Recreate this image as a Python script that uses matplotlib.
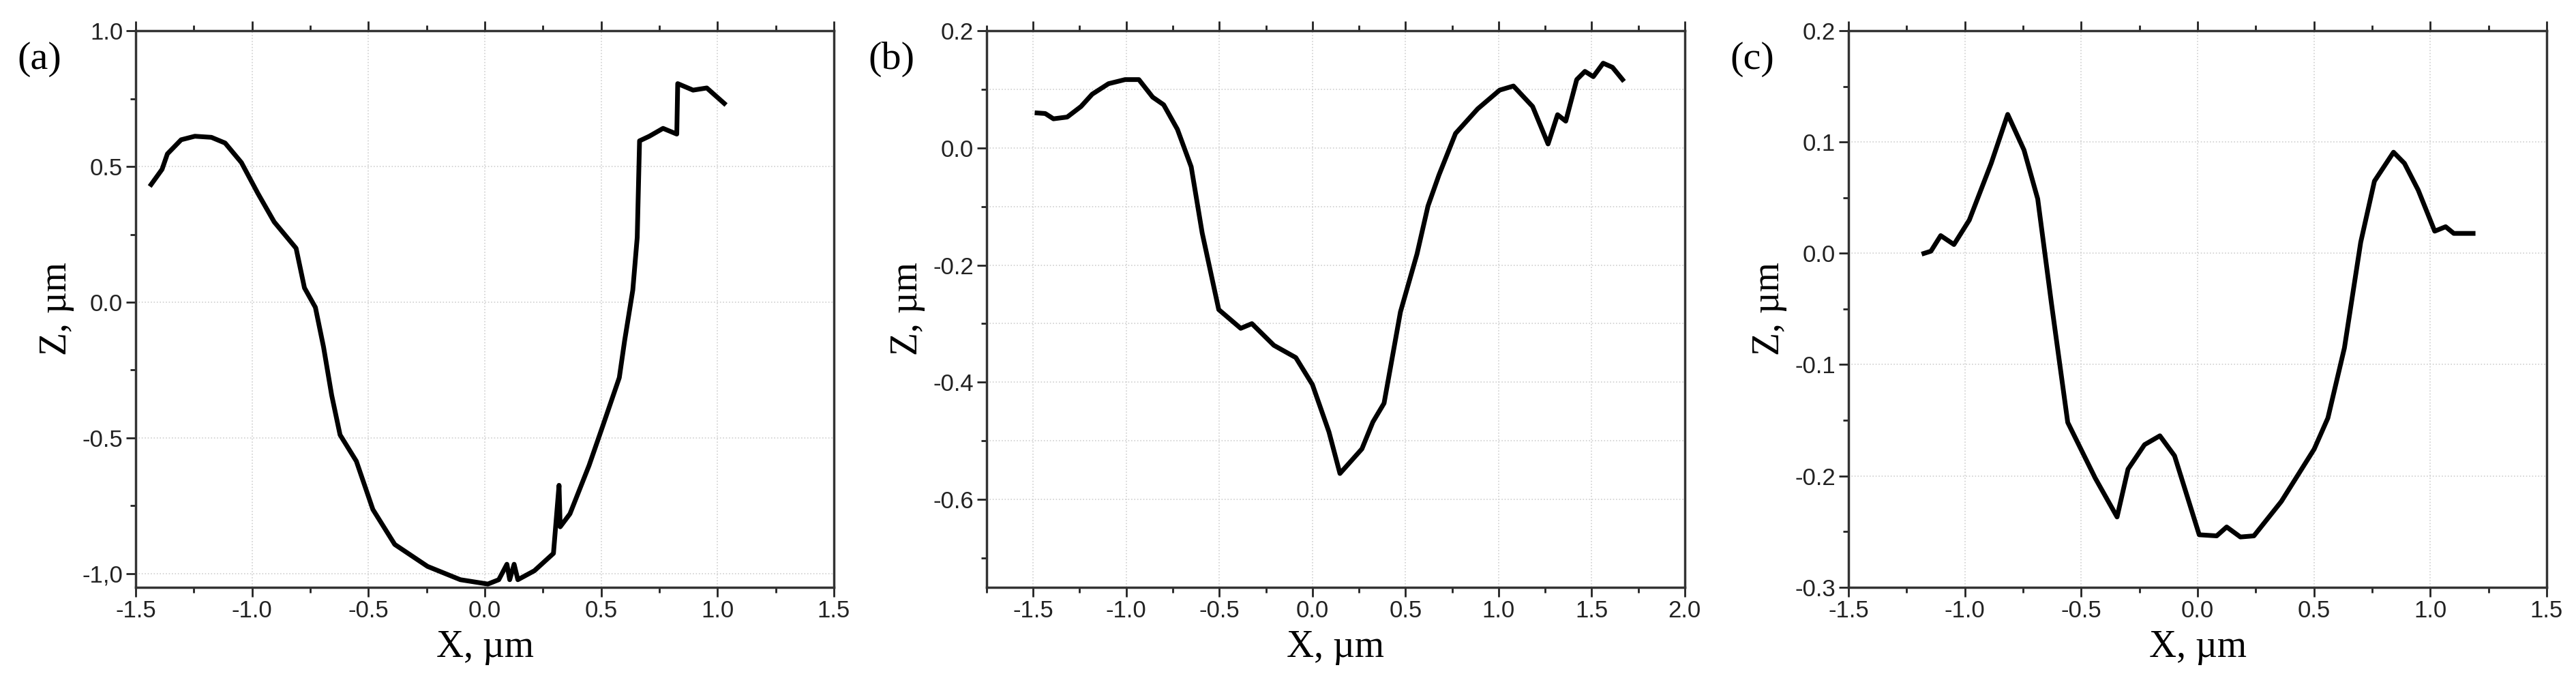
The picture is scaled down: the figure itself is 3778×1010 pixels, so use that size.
import numpy as np
import matplotlib
matplotlib.use("Agg")
import matplotlib.pyplot as plt
from matplotlib.ticker import MultipleLocator, FixedLocator

plt.rcParams["axes.unicode_minus"] = False

# ---- data ----
xa = [-1.434, -1.387, -1.364, -1.305, -1.246, -1.175, -1.116, -1.046, -0.975, -0.905, -0.811,
      -0.775, -0.728, -0.693, -0.658, -0.622, -0.552, -0.481, -0.387, -0.246, -0.105, 0.013,
      0.060, 0.095, 0.107, 0.126, 0.142, 0.213, 0.295, 0.319, 0.324, 0.366, 0.448, 0.507,
      0.578, 0.601, 0.636, 0.655, 0.665, 0.707, 0.766, 0.825, 0.829, 0.895, 0.954, 1.029]
za = [0.434, 0.490, 0.547, 0.599, 0.612, 0.608, 0.587, 0.515, 0.401, 0.296, 0.199,
      0.053, -0.019, -0.165, -0.343, -0.489, -0.586, -0.764, -0.893, -0.974, -1.023, -1.039,
      -1.023, -0.966, -1.023, -0.966, -1.023, -0.990, -0.926, -0.675, -0.828, -0.780, -0.602, -0.456,
      -0.278, -0.141, 0.045, 0.239, 0.595, 0.612, 0.641, 0.620, 0.806, 0.782, 0.790, 0.733]

xb = [-1.479, -1.435, -1.391, -1.317, -1.243, -1.183, -1.095, -1.006, -0.932, -0.858, -0.799,
      -0.725, -0.651, -0.592, -0.503, -0.385, -0.325, -0.207, -0.089, 0.000, 0.089, 0.148,
      0.266, 0.325, 0.385, 0.473, 0.562, 0.621, 0.680, 0.769, 0.888, 1.006, 1.080, 1.183,
      1.266, 1.317, 1.361, 1.420, 1.464, 1.509, 1.562, 1.612, 1.666]
zb = [0.060, 0.059, 0.050, 0.053, 0.071, 0.092, 0.110, 0.117, 0.117, 0.087, 0.074,
      0.032, -0.032, -0.145, -0.276, -0.308, -0.300, -0.337, -0.358, -0.404, -0.485, -0.556,
      -0.514, -0.468, -0.436, -0.280, -0.181, -0.099, -0.046, 0.025, 0.067, 0.099, 0.106, 0.071,
      0.007, 0.057, 0.046, 0.117, 0.131, 0.122, 0.145, 0.138, 0.117]

xc = [-1.176, -1.146, -1.104, -1.047, -0.981, -0.887, -0.816, -0.746, -0.687, -0.628, -0.558,
      -0.440, -0.346, -0.299, -0.228, -0.162, -0.099, 0.007, 0.082, 0.125, 0.184, 0.242,
      0.360, 0.501, 0.560, 0.631, 0.701, 0.760, 0.842, 0.889, 0.948, 1.019, 1.066, 1.101, 1.184]
zc = [0.000, 0.002, 0.016, 0.008, 0.030, 0.081, 0.125, 0.093, 0.049, -0.045, -0.152,
      -0.202, -0.237, -0.194, -0.172, -0.164, -0.182, -0.253, -0.254, -0.246, -0.255, -0.254,
      -0.223, -0.176, -0.148, -0.085, 0.010, 0.065, 0.091, 0.081, 0.057, 0.020, 0.024, 0.018, 0.018]

panels = [
    dict(tag="(a)", x=xa, z=za, left=0.0527, xlim=(-1.5, 1.5), ylim=(-1.05, 1.0),
         xmaj=0.5, xmin=0.25, ymaj=[-1.0, -0.5, 0.0, 0.5, 1.0],
         ylab=["-1,0", "-0.5", "0.0", "0.5", "1.0"], ymin=0.25, ygrid=[-1.0, -0.5, 0.0, 0.5]),
    dict(tag="(b)", x=xb, z=zb, left=0.383, xlim=(-1.75, 2.0), ylim=(-0.75, 0.2),
         xmaj=0.5, xmin=0.25, ymaj=[-0.6, -0.4, -0.2, 0.0, 0.2],
         ylab=["-0.6", "-0.4", "-0.2", "0.0", "0.2"], ymin=0.1,
         ygrid=[-0.6, -0.5, -0.4, -0.3, -0.2, -0.1, 0.0, 0.1]),
    dict(tag="(c)", x=xc, z=zc, left=0.7176, xlim=(-1.5, 1.5), ylim=(-0.3, 0.2),
         xmaj=0.5, xmin=0.25, ymaj=[-0.3, -0.2, -0.1, 0.0, 0.1, 0.2],
         ylab=["-0.3", "-0.2", "-0.1", "0.0", "0.1", "0.2"], ymin=0.05,
         ygrid=[-0.2, -0.1, 0.0, 0.1]),
]

fig = plt.figure(figsize=(37.78, 10.10), dpi=100)
tickfont = "Liberation Sans"
labfont = "Liberation Serif"

for p in panels:
    ax = fig.add_axes([p["left"], 0.148, 0.271, 0.807])
    ax.plot(p["x"], p["z"], color="black", lw=5, solid_joinstyle="round")
    ax.set_xlim(*p["xlim"])
    ax.set_ylim(*p["ylim"])
    ax.xaxis.set_major_locator(MultipleLocator(p["xmaj"]))
    ax.xaxis.set_minor_locator(MultipleLocator(p["xmin"]))
    ax.yaxis.set_major_locator(FixedLocator(p["ymaj"]))
    ax.set_yticklabels(p["ylab"])
    ax.yaxis.set_minor_locator(MultipleLocator(p["ymin"]))
    ax.grid(True, axis="x", which="major", color="#d0d0d0", ls=":", lw=1.2)
    for g in p["ygrid"]:
        ax.axhline(g, color="#d0d0d0", ls=":", lw=1.2, zorder=0)
    ax.tick_params(which="both", direction="out", top=True, right=False,
                   labelsize=25, width=2, colors="#222222")
    ax.tick_params(which="major", length=10)
    ax.tick_params(which="minor", length=6)
    for lbl in ax.get_xticklabels() + ax.get_yticklabels():
        lbl.set_fontfamily(tickfont)
    for s in ax.spines.values():
        s.set_linewidth(2.5)
        s.set_color("#333333")
    ax.set_xlabel("X, µm", fontsize=40, family=labfont, labelpad=8)
    ax.set_ylabel("Z, µm", fontsize=40, family=labfont, labelpad=8)
    fig.text(p["left"] - 0.046, 0.9, p["tag"], fontsize=42, family=labfont)

fig.savefig("out.png", dpi=100)
